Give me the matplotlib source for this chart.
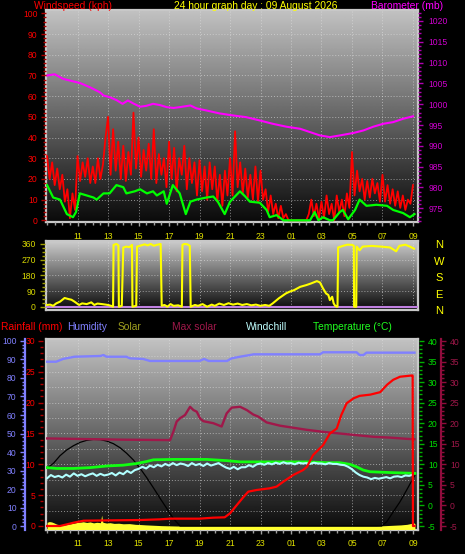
import numpy as np
import matplotlib
matplotlib.use('Agg')
import matplotlib.pyplot as plt
from matplotlib.ticker import MultipleLocator

plt.rcParams['font.family'] = ['Liberation Sans', 'DejaVu Sans']
plt.rcParams['axes.unicode_minus'] = False

# ------------------------------------------------------------------ data
# time = hours after 09:00 of the previous day
hour_pos = [2, 4, 6, 8, 10, 12, 14, 16, 18, 20, 22, 24]
hour_labels = ['11', '13', '15', '17', '19', '21', '23', '01', '03', '05', '07', '09']

# wind gust (kph), one value every 10 minutes
gust_step_h = 1 / 6
gust_kph = [
    31, 20, 28, 17, 25, 15,
    22, 9, 15, 1, 13, 5,
    31, 19, 28, 21, 30, 18,
    26, 18, 30, 20, 27, 40,
    50, 22, 44, 24, 38, 20,
    36, 19, 33, 22, 52, 25,
    40, 21, 34, 24, 37, 20,
    44, 18, 32, 22, 30, 16,
    38, 20, 35, 14, 30, 22,
    36, 15, 30, 18, 28, 12,
    29, 14, 26, 10, 28, 15,
    26, 9, 22, 7, 24, 12,
    30, 12, 43, 16, 28, 13,
    25, 11, 22, 10, 26, 9,
    24, 10, 15, 4, 12, 3,
    8, 1, 7, 1, 3, 0,
    0, 0, 0, 0, 0, 0,
    0, 3, 10, 2, 8, 1,
    9, 1, 12, 3, 8, 0,
    12, 4, 10, 2, 13, 6,
    33, 12, 24, 14, 20, 10,
    19, 11, 20, 13, 18, 9,
    22, 9, 17, 8, 15, 7,
    14, 6, 12, 5, 10, 8,
    17]

# average wind speed (kph)
avg_t = [0.0, 0.4, 0.85, 1.3, 1.7, 1.9, 2.15, 2.6, 3.05, 3.25, 3.7, 4.1, 4.55, 5.0, 5.2,
         5.75, 6.1, 6.55, 6.95, 7.2, 7.65, 7.85, 8.25, 8.7, 9.1, 9.4, 9.8, 10.45, 10.9, 11.2,
         11.65, 12.0, 12.65, 13.0, 13.3, 13.95, 14.4, 14.6, 15.05, 15.5, 15.9, 17.0, 17.25, 17.55, 17.8,
         18.1, 18.55, 18.75, 19.2, 19.4, 19.75, 20.2, 20.5, 20.95, 21.6, 22.3, 22.7, 23.35, 23.8, 24.1]
avg_kph = [17, 11, 10, 3, 1.5, 4, 13, 12, 11, 10, 13, 13, 17, 16, 13,
           14, 15, 13, 14, 12, 14, 8, 17, 13, 3, 9, 10, 11, 11.5, 9,
           3, 9, 14, 11.5, 9, 8.5, 5, 1.5, 2.5, 0, 0, 0, 0, 4, 0,
           1.5, 0, 0, 4, 5, 0.5, 5, 10, 7, 7.5, 7, 5, 3.5, 1.5, 3]

# barometer (mb)
baro_t = [0.0, 0.5, 1.05, 1.7, 2.15, 2.8, 3.45, 3.7, 4.1, 4.55,
          4.95, 5.3, 5.65, 6.1, 6.5, 6.95, 7.4, 7.85, 8.3, 8.7,
          9.4, 9.8, 10.45, 11.3, 12.2, 13.05, 13.95, 14.8, 15.7, 16.6,
          17.25, 17.9, 18.55, 19.2, 20.1, 20.75, 21.4, 22.05, 22.7, 23.35, 24.0]
baro_mb = [1006.9, 1007.2, 1006.1, 1005.5, 1005.1, 1004.1, 1002.9, 1002.1, 1001.7, 1001.0,
           1000.1, 1000.9, 1000.2, 999.4, 999.6, 1000.1, 999.8, 999.3, 999.1, 999.3,
           999.7, 999.0, 998.5, 997.8, 997.3, 996.9, 996.1, 995.3, 994.6, 994.1,
           993.3, 992.5, 992.1, 992.5, 993.1, 993.7, 994.6, 995.3, 995.7, 996.5, 997.1]

# wind direction (degrees)
dir_t = [0.0, 0.2, 0.4, 0.6, 0.85, 1.15, 1.4, 1.6, 1.8, 2.1,
         2.3, 2.6, 2.9, 3.1, 3.3, 3.6, 4.0, 4.2, 4.33, 4.36,
         4.55, 4.68, 4.71, 4.9, 5.0, 5.2, 5.4, 5.57, 5.6, 5.85,
         5.9, 6.1, 6.4, 6.6, 6.8, 7.0, 7.2, 7.45, 7.52, 7.7,
         7.9, 8.1, 8.3, 8.6, 8.84, 8.88, 9.0, 9.2, 9.36, 9.42,
         9.7, 9.9, 10.2, 10.5, 10.8, 11.0, 11.3, 11.6, 11.9, 12.2,
         12.5, 12.8, 13.1, 13.4, 13.7, 14.0, 14.3, 14.57, 14.8, 15.2,
         15.66, 15.9, 16.2, 16.6, 17.0, 17.3, 17.7, 17.9, 18.1, 18.3,
         18.45, 18.55, 18.7, 18.8, 18.9, 19.0, 19.05, 19.09, 19.4, 19.7,
         20.0, 20.12, 20.14, 20.28, 20.31, 20.5, 20.7, 21.3, 21.9, 22.5,
         22.9, 23.1, 23.5, 23.8, 24.07]
dir_deg = [10, 12, 5, 19, 29, 50, 44, 40, 29, 10,
           19, 15, 25, 10, 18, 15, 10, 5, 0, 355,
           360, 352, 0, 5, 340, 345, 342, 355, 0, 5,
           345, 350, 358, 352, 360, 350, 355, 360, 5, 10,
           0, 15, 5, 8, 0, 355, 360, 358, 350, 0,
           10, 5, 15, 0, 12, 5, 18, 10, 20, 12,
           18, 10, 15, 8, 12, 5, 10, 5, 19, 48,
           76, 86, 95, 114, 124, 133, 147, 139, 105, 76,
           67, 38, 57, 19, 5, 0, 0, 340, 349, 356,
           355, 350, 0, 0, 345, 324, 345, 349, 345, 340,
           318, 349, 356, 345, 333]

# humidity (%)
hum_t = [0.0, 0.6, 1.05, 1.8, 3.5, 3.7, 3.9, 5.2, 5.45, 6.3, 6.75, 10.0, 10.3, 10.6, 11.8,
         12.1, 12.65, 13.3, 13.55, 17.9, 18.1, 20.3, 20.5, 20.75, 20.95, 24.1]
hum_pct = [88.8, 88.8, 90.3, 91.5, 91.9, 92.4, 91.5, 91.5, 90.6, 90.3, 89.2, 89.2, 90.3, 89.2, 89.2,
           90.6, 91.5, 92.4, 92.8, 92.8, 93.9, 93.9, 92.4, 92.4, 93.7, 93.7]

# max solar line (maroon, deg scale)
maxsol_t = [0.0, 5.0, 8.07, 8.29, 8.5, 8.72, 9.05, 9.38, 9.6, 9.82, 10.03, 10.25, 10.91, 11.45, 11.78,
            12.11, 12.66, 13.1, 13.53, 13.86, 14.4, 15.28, 16.15, 17.03, 18.12, 19.2, 20.3, 21.4, 22.5, 23.6, 24.1]
maxsol_v = [16.3, 16.0, 15.9, 18.0, 20.4, 21.2, 22.0, 24.0, 23.2, 22.8, 21.2, 20.5, 20.0, 19.2, 22.4,
            23.8, 24.0, 23.2, 22.1, 21.6, 20.2, 19.4, 18.9, 18.4, 17.9, 17.5, 17.1, 16.7, 16.5, 16.2, 16.1]

# temperature (C)
temp_t = [0.0, 0.63, 1.73, 2.82, 3.91, 5.0, 5.88, 6.54, 6.97, 8.29, 10.47, 11.78, 12.66, 14.84, 17.03,
          18.34, 19.2, 19.87, 20.3, 20.74, 21.18, 22.5, 24.13]
temp_c = [9.2, 9.0, 9.0, 9.2, 9.6, 9.8, 10.2, 10.7, 11.1, 11.2, 11.2, 10.9, 10.6, 10.6, 10.6,
          10.4, 10.4, 10.0, 9.4, 8.6, 8.2, 8.0, 7.8]

# windchill (C), one value every 15 minutes
chill_step_h = 0.25
chill_c = [
    6.6, 7.4, 6.9, 7.2, 6.8, 7.5, 7.0, 7.8, 7.2, 7.6, 7.1, 7.5,
    7.8, 7.2, 7.7, 7.3, 7.5, 7.9, 7.3, 8.0, 7.6, 8.4, 7.9, 8.6,
    8.9, 9.4, 9.0, 9.7, 9.3, 9.9, 9.5, 10.1, 9.7, 10.3, 9.8, 10.2,
    10.0, 9.6, 10.3, 9.8, 10.1, 9.6, 10.2, 9.7, 10.0, 10.3, 9.7, 9.2,
    8.9, 9.4, 8.8, 9.3, 9.3, 9.8, 9.4, 10.0, 10.2, 9.9, 10.3, 10.0,
    10.4, 10.1, 10.5, 10.2, 10.3, 10.0, 10.4, 10.2, 10.3, 10.1, 10.4, 10.2,
    10.2, 10.0, 10.3, 10.1, 10.1, 9.9, 9.8, 9.4, 8.8, 8.0, 7.4, 7.0,
    6.8, 6.4, 6.7, 6.5, 6.7, 6.9, 6.6, 7.0, 7.1, 6.9, 7.3, 7.2,
    7.5]

# rainfall (mm, cumulative)
rain_t = [0.0, 0.85, 1.3, 1.75, 2.4, 6.1, 7.4, 8.1, 10.0, 10.9, 11.65, 12.0, 12.45, 12.9, 13.2,
          13.75, 14.6, 15.05, 15.5, 16.15, 16.8, 17.05, 17.45, 18.1, 18.55, 19.0, 19.3, 19.65, 20.1, 20.5,
          21.2, 21.85, 22.3, 22.7, 23.15, 23.9, 23.98, 24.0, 24.1]
rain_mm = [0, 0, 0.27, 0.54, 0.86, 0.97, 1.08, 1.19, 1.19, 1.35, 1.41, 2.05, 3.41, 4.75, 5.57,
           5.84, 6.11, 6.38, 7.19, 8.27, 9.08, 9.62, 11.5, 13.1, 15.0, 15.8, 18.0, 19.9, 20.7, 21.1,
           21.3, 21.7, 22.9, 23.7, 24.2, 24.4, 24.4, 0, 0]

# theoretical sun curve (W/m2)
sun_t = [0.0, 0.42, 0.85, 1.29, 1.73, 2.16, 2.6, 3.04, 3.48, 3.91, 4.35, 4.79, 5.22, 5.66, 6.1,
         6.54, 6.97, 7.41, 7.85, 8.28, 8.72, 21.95, 22.28, 22.71, 23.15, 23.59, 24.13]
sun_wm2 = [312, 339, 380, 411, 434, 452, 463, 468, 467, 459, 445, 423, 393, 357, 312,
           261, 207, 150, 95, 41, 0, 0, 23, 77, 131, 195, 276]

# solar radiation (W/m2)
solar_t = [0.0, 0.15, 0.3, 0.45, 0.63, 0.85, 1.07, 1.3, 1.5, 1.75, 1.95, 2.2, 2.38, 2.6, 2.82,
           3.05, 3.26, 3.5, 3.58, 3.66, 3.9, 4.13, 4.4, 4.7, 5.0, 5.4, 5.8, 6.1, 6.5, 7.0,
           7.5, 8.0, 8.5, 21.6, 22.2, 22.7, 23.2, 23.6, 23.9, 24.0, 24.13]
solar_wm2 = [20, 24, 22, 17, 10, 6, 4, 8, 11, 15, 19, 21, 23, 19, 22,
             17, 20, 18, 59, 20, 16, 18, 14, 15, 12, 13, 9, 8, 6, 4,
             2, 1, 0, 0, 2, 4, 6, 9, 14, 20, 12]

# ------------------------------------------------------------------ layout
W, H = 465, 554
fig = plt.figure(figsize=(W / 100, H / 100), dpi=100, facecolor='black')
XLIM = (-0.07, 24.33)
YEL = '#e0e000'
TSIZE = 6.2
HSIZE = 7.4


def rect(x0, y0, x1, y1):
    return [x0 / W, 1 - y1 / H, (x1 - x0) / W, (y1 - y0) / H]


def background(r, ylim, ygrid, top=0.76, bottom=0.04):
    bg = fig.add_axes(r, zorder=0)
    grad = np.linspace(top, bottom, 256).reshape(-1, 1)
    bg.imshow(grad, extent=[XLIM[0], XLIM[1], ylim[0], ylim[1]], aspect='auto',
              cmap='gray', vmin=0, vmax=1, origin='upper', interpolation='bilinear')
    bg.set_xlim(*XLIM)
    bg.set_ylim(*ylim)
    bg.set_xticks(hour_pos)
    bg.set_yticks(ygrid)
    bg.tick_params(length=0, labelbottom=False, labelleft=False)
    bg.grid(True, color='#e0e0e0', linestyle=(0, (1, 2)), linewidth=0.7, alpha=0.6)
    for s in bg.spines.values():
        s.set_color('#c8c8c8')
        s.set_linewidth(1.6)
    return bg


def clean(ax, z):
    ax.set_zorder(z)
    ax.patch.set_visible(False)
    for s in ax.spines.values():
        s.set_visible(False)
    ax.set_xlim(*XLIM)


def style_y(ax, side, lim, major, minor, tcol, lcol, offset_px=0, spine=None, pad=2.0):
    ax.set_ylim(*lim)
    ax.yaxis.set_major_locator(MultipleLocator(major))
    ax.yaxis.set_minor_locator(MultipleLocator(minor))
    if side == 'left':
        ax.yaxis.tick_left()
    else:
        ax.yaxis.tick_right()
    sp = ax.spines[side]
    sp.set_position(('outward', offset_px * 0.72))
    if spine:
        sp.set_visible(True)
        sp.set_color(spine)
        sp.set_linewidth(1.6)
    ax.tick_params(axis='y', which='major', length=3.5, width=1, color=tcol,
                   labelcolor=lcol, labelsize=TSIZE, pad=pad)
    ax.tick_params(axis='y', which='minor', length=2, width=1, color=tcol)


def style_x(ax, labels=True):
    ax.set_xticks(hour_pos)
    ax.xaxis.set_minor_locator(MultipleLocator(0.5))
    if labels:
        ax.set_xticklabels(hour_labels)
        ax.tick_params(axis='x', which='major', length=3, width=1, color='#a0a0a0',
                       labelcolor=YEL, labelsize=TSIZE, pad=4)
        ax.tick_params(axis='x', which='minor', length=2, width=1, color='#a0a0a0')
    else:
        ax.tick_params(axis='x', which='both', length=0, labelbottom=False)


# ---------------- top panel: wind speed + barometer
rt = rect(46, 10, 418, 222)
KPH_LIM = (-0.82, 101.6)
background(rt, KPH_LIM, [10, 20, 30, 40, 50, 60, 70, 80, 90])
axw = fig.add_axes(rt)
clean(axw, 3)
axb = axw.twinx()
clean(axb, 2)
style_y(axb, 'right', (971.7, 1022.64), 5, 1, '#b000b0', '#d000d0', offset_px=0, pad=4)
style_y(axw, 'left', KPH_LIM, 10, 2, '#b00000', '#ff0000', offset_px=0, pad=2.5)
style_x(axw)
gust_t = np.arange(len(gust_kph)) * gust_step_h
axb.plot(baro_t, baro_mb, color='#ff00ff', lw=1.5)
axw.plot(gust_t, gust_kph, color='#ff0000', lw=1.3)
axw.plot(avg_t, avg_kph, color='#00ff00', lw=1.6)

# ---------------- middle panel: wind direction
rm = rect(46, 241, 418, 310)
DIR_LIM = (-18.9, 377.1)
background(rm, DIR_LIM, [90, 180, 270], top=0.8)
axd = fig.add_axes(rm)
clean(axd, 3)
style_y(axd, 'left', DIR_LIM, 90, 22.5, '#a0a000', '#d8d800', offset_px=1, pad=3)
style_x(axd, labels=False)
axd.axhline(0, color='#c080e0', lw=1.5)
axd.plot(dir_t, dir_deg, color='#ffff00', lw=1.5)

# ---------------- bottom panel
rb = rect(46, 339, 418, 529.5)
RAIN_LIM = (-0.568, 30.32)
background(rb, RAIN_LIM, list(np.arange(2.5, 30, 2.5)))
axs = fig.add_axes(rb)
clean(axs, 1)
SOLAR_LIM = (-18.9, 1010.8)
axs.set_ylim(*SOLAR_LIM)
axm = axs.twinx(); clean(axm, 2)
axh = axs.twinx(); clean(axh, 3)
axt = axs.twinx(); clean(axt, 4)
axr = axs.twinx(); clean(axr, 5)
axs.set_yticks([])
style_x(axs)
TEMP_LIM = (-5.85, 40.49)
style_y(axm, 'right', TEMP_LIM, 5, 1, '#900c3c', '#a0184a', offset_px=23, spine='#900c3c', pad=3)
style_y(axh, 'left', (-1.89, 101.08), 10, 2, '#8080ff', '#8080ff', offset_px=21, spine='#8080ff', pad=2.5)
style_y(axt, 'right', TEMP_LIM, 5, 1, '#00b000', '#00e000', offset_px=1, pad=3)
style_y(axr, 'left', RAIN_LIM, 5, 1, '#b00000', '#ff0000', offset_px=3, pad=2)

axs.fill_between(solar_t, SOLAR_LIM[0], solar_wm2, color='#ffff30', lw=0)
axs.plot(sun_t, sun_wm2, color='#000000', lw=0.9)
axm.plot(maxsol_t, maxsol_v, color='#a0184a', lw=1.7)
axh.plot(hum_t, hum_pct, color='#8080ff', lw=1.7)
axt.plot(temp_t, temp_c, color='#10ff10', lw=2.0)
chill_t = np.arange(len(chill_c)) * chill_step_h
axt.plot(chill_t, chill_c, color='#b0ffff', lw=1.5)
axr.plot(rain_t, rain_mm, color='#ff0000', lw=1.6)

# ---------------- texts
ty = 1 - 6 / H
fig.text(34 / W, ty, 'Windspeed (kph)', color='#ff0000', fontsize=HSIZE, va='center', ha='left')
fig.text(256 / W, ty, '24 hour graph day : 09 August 2026', color='#ffff00', fontsize=HSIZE,
         va='center', ha='center')
fig.text(407 / W, ty, 'Barometer (mb)', color='#ff00ff', fontsize=HSIZE, va='center', ha='center')

ly = 1 - 327 / H
legend_items = [('Rainfall (mm)', '#ff0000', 1), ('Humidity', '#8080ff', 67), ('Solar', '#a0a020', 118),
                ('Max solar', '#a0184a', 172), ('Windchill', '#c0ffff', 246),
                ('Temperature (\u00b0C)', '#20ff20', 313)]
for txt, col, x in legend_items:
    fig.text(x / W, ly, txt, color=col, fontsize=HSIZE, va='center', ha='left')

for ch, y in zip('NWSEN', [245, 262, 278, 295, 311]):
    fig.text(439 / W, 1 - y / H, ch, color='#ffff00', fontsize=HSIZE + 0.6, va='center', ha='center')

fig.savefig('out.png', dpi=100, facecolor='black')
